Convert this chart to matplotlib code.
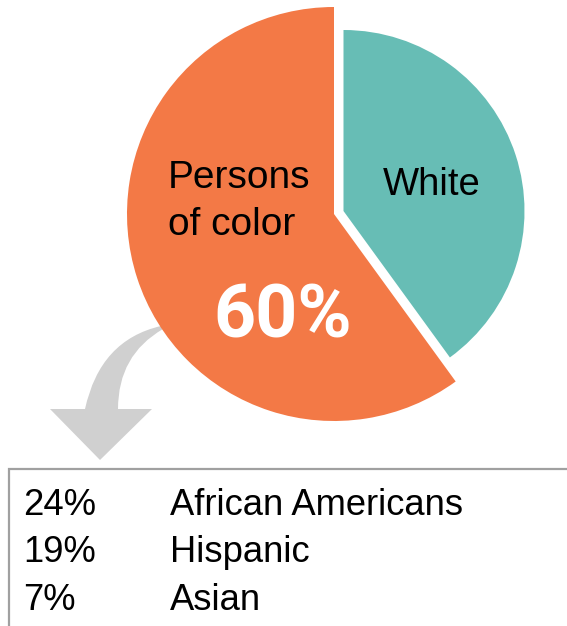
import matplotlib
matplotlib.use("Agg")
import matplotlib.pyplot as plt
from matplotlib.patches import PathPatch
from matplotlib.path import Path

# ---- data ----
pie_labels = ["Persons\nof color", "White"]
pie_values = [60, 40]
pie_colors = ["#F37946", "#67BDB5"]
big_label = "60%"
sub_pcts = ["24%", "19%", "7%"]
sub_names = ["African Americans", "Hispanic", "Asian"]

W, H = 567, 626
fig = plt.figure(figsize=(W / 100, H / 100), dpi=100)
ax = fig.add_axes([0, 0, 1, 1])

FONT = ["Liberation Sans", "DejaVu Sans"]

# ---- pie ----
wedges, _ = ax.pie(pie_values, colors=pie_colors, startangle=-90,
                   counterclock=False, radius=207, center=(334, 214),
                   wedgeprops=dict(linewidth=0))
# (y axis inverted: angles mirrored)
ax.set_xlim(0, W)
ax.set_ylim(H, 0)
ax.set_aspect("equal")
ax.axis("off")
wedges[1].set_radius(181)
wedges[1].set_center((343.5, 211))
for w in wedges:
    w.set_zorder(3)

# ---- curved arrow (decoration) ----
verts = [(161, 326), (100, 340), (85, 409),
         (50, 409), (100, 460), (152, 409), (118, 409),
         (118, 355), (163, 329), (161, 326)]
codes = [Path.MOVETO, Path.CURVE3, Path.CURVE3,
         Path.LINETO, Path.LINETO, Path.LINETO, Path.LINETO,
         Path.CURVE3, Path.CURVE3, Path.CLOSEPOLY]
ax.add_patch(PathPatch(Path(verts, codes), facecolor="#D0D0D0",
                       edgecolor="none", zorder=1))

# ---- labels on pie ----
ax.text(168, 235, pie_labels[0], fontsize=28, family=FONT, color="black",
        ha="left", va="baseline", linespacing=1.38, zorder=5,
        multialignment="left")
ax.text(383, 195, pie_labels[1], fontsize=27.5, family=FONT, color="black",
        ha="left", va="baseline", zorder=5)
ax.text(283, 337, big_label, fontsize=53, fontweight="bold",
        family=["Roboto", "DejaVu Sans"], color="white",
        ha="center", va="baseline", zorder=5)

# ---- box ----
ax.plot([9, 9, W + 5], [H + 5, 469, 469], color="#A0A0A0", lw=1.6,
        solid_joinstyle="miter", zorder=2)
baselines = [515, 562, 610]
for p, n, yb in zip(sub_pcts, sub_names, baselines):
    ax.text(23, yb, p, fontsize=26.2, family=FONT, ha="left", va="baseline")
    ax.text(170, yb, n, fontsize=26.2, family=FONT, ha="left", va="baseline")

fig.savefig("out.png", dpi=100)
